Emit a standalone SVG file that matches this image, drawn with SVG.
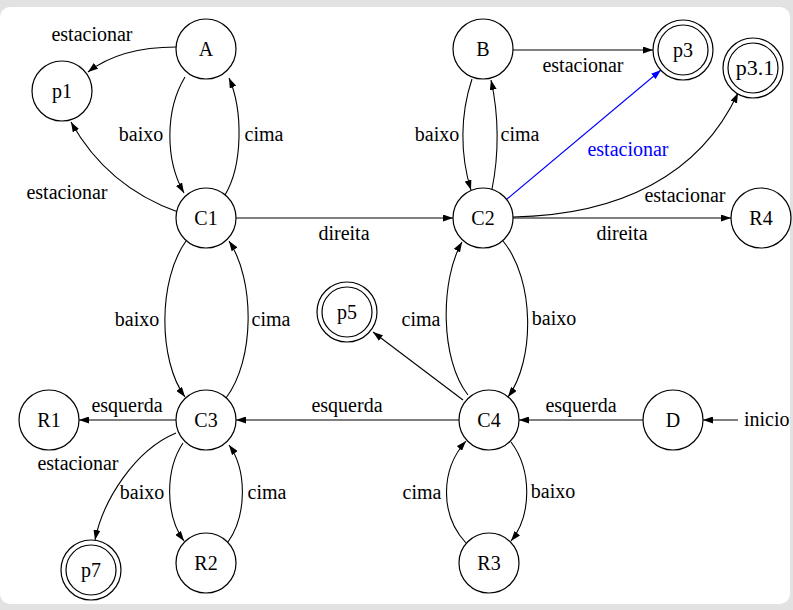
<svg xmlns="http://www.w3.org/2000/svg" width="793" height="610" viewBox="0 0 793 610">
<style>
.n{fill:#fff;stroke:#000;stroke-width:1.2}
.e{fill:none;stroke:#000;stroke-width:1.1;marker-end:url(#ah)}
.eb{fill:none;stroke:#00f;stroke-width:1.1;marker-end:url(#ahb)}
text{font-family:"Liberation Serif","Times New Roman",serif;font-size:20px;fill:#000;text-anchor:middle}
.bl{fill:#00f}
</style>
<defs>
<marker id="ah" viewBox="0 0 10 7" refX="10" refY="3.5" markerWidth="10" markerHeight="7" markerUnits="userSpaceOnUse" orient="auto"><path d="M0,0 L10,3.5 L0,7 Z" fill="#000"/></marker>
<marker id="ahb" viewBox="0 0 10 7" refX="10" refY="3.5" markerWidth="10" markerHeight="7" markerUnits="userSpaceOnUse" orient="auto"><path d="M0,0 L10,3.5 L0,7 Z" fill="#00f"/></marker>
</defs>
<rect x="0" y="0" width="793" height="610" fill="#e2e2e2"/>
<rect x="0" y="7" width="790" height="597" rx="10" fill="#fff"/>
<g id="connectors">
<path class="e" d="M176,47 C140,47 110,55 88,72"/>
<path class="e" d="M185,77 C165,110 165,160 184,193"/>
<path class="e" d="M225,195 C243,165 243,110 229,78"/>
<path class="e" d="M178,212 C130,195 95,165 71,122"/>
<path class="e" d="M236,218 L453,218"/>
<path class="e" d="M513,50 L653,50"/>
<path class="e" d="M472,79 C460,115 460,155 471,190"/>
<path class="e" d="M492,189 C499,155 499,115 491,80"/>
<path class="eb" d="M507,199 L661,70"/>
<path class="e" d="M513,217 C620,215 700,175 738,93"/>
<path class="e" d="M513,218 L731,218"/>
<path class="e" d="M186,241 C158,280 158,360 185,397"/>
<path class="e" d="M226,398 C255,360 255,280 229,241"/>
<path class="e" d="M503,241 C535,280 535,360 508,397"/>
<path class="e" d="M468,395 C440,360 440,280 462,242"/>
<path class="e" d="M463,400 L373,332"/>
<path class="e" d="M459,420 L236,420"/>
<path class="e" d="M643,420 L519,420"/>
<path class="e" d="M738,420 L703,420"/>
<path class="e" d="M176,420 L79,420"/>
<path class="e" d="M176,433 C135,450 103,500 95,540"/>
<path class="e" d="M183,443 C165,470 165,515 184,541"/>
<path class="e" d="M228,542 C247,515 247,470 229,445"/>
<path class="e" d="M511,442 C532,470 532,515 511,541"/>
<path class="e" d="M466,543 C440,515 440,470 466,441"/>
<text x="92" y="41">estacionar</text>
<text x="141" y="141">baixo</text>
<text x="264" y="141">cima</text>
<text x="67" y="199">estacionar</text>
<text x="344" y="240">direita</text>
<text x="583" y="72">estacionar</text>
<text x="437" y="141">baixo</text>
<text x="520" y="141">cima</text>
<text class="bl" x="628" y="156">estacionar</text>
<text x="685" y="202">estacionar</text>
<text x="622" y="240">direita</text>
<text x="137" y="326">baixo</text>
<text x="271" y="326">cima</text>
<text x="421" y="326">cima</text>
<text x="554" y="325">baixo</text>
<text x="347" y="412">esquerda</text>
<text x="581" y="412">esquerda</text>
<text x="744" y="426" style="text-anchor:start">inicio</text>
<text x="127" y="412">esquerda</text>
<text x="78" y="470">estacionar</text>
<text x="142" y="499">baixo</text>
<text x="267" y="499">cima</text>
<text x="422" y="499">cima</text>
<text x="553" y="498">baixo</text>
</g>
<g id="A"><circle class="n" cx="206" cy="49" r="30"/><text x="206" y="56">A</text></g>
<g id="p1"><circle class="n" cx="62" cy="91" r="30"/><text x="62" y="98">p1</text></g>
<g id="C1"><circle class="n" cx="206" cy="218" r="30"/><text x="206" y="225">C1</text></g>
<g id="B"><circle class="n" cx="483" cy="49" r="30"/><text x="483" y="56">B</text></g>
<g id="p3"><circle class="n" cx="683" cy="50" r="30"/><circle class="n" cx="683" cy="50" r="25"/><text x="683" y="57">p3</text></g>
<g id="p3.1"><circle class="n" cx="753" cy="68" r="30"/><circle class="n" cx="753" cy="68" r="25"/><text x="755" y="75" style="font-size:22px">p3.1</text></g>
<g id="C2"><circle class="n" cx="483" cy="218" r="30"/><text x="483" y="225">C2</text></g>
<g id="R4"><circle class="n" cx="761" cy="218" r="30"/><text x="761" y="225">R4</text></g>
<g id="p5"><circle class="n" cx="347" cy="312" r="30"/><circle class="n" cx="347" cy="312" r="25"/><text x="347" y="319">p5</text></g>
<g id="R1"><circle class="n" cx="49" cy="420" r="30"/><text x="49" y="427">R1</text></g>
<g id="C3"><circle class="n" cx="206" cy="420" r="30"/><text x="206" y="427">C3</text></g>
<g id="C4"><circle class="n" cx="489" cy="420" r="30"/><text x="489" y="427">C4</text></g>
<g id="D"><circle class="n" cx="673" cy="420" r="30"/><text x="673" y="427">D</text></g>
<g id="p7"><circle class="n" cx="91" cy="570" r="30"/><circle class="n" cx="91" cy="570" r="25"/><text x="91" y="577">p7</text></g>
<g id="R2"><circle class="n" cx="206" cy="563" r="30"/><text x="206" y="570">R2</text></g>
<g id="R3"><circle class="n" cx="489" cy="563" r="30"/><text x="489" y="570">R3</text></g>
</svg>
